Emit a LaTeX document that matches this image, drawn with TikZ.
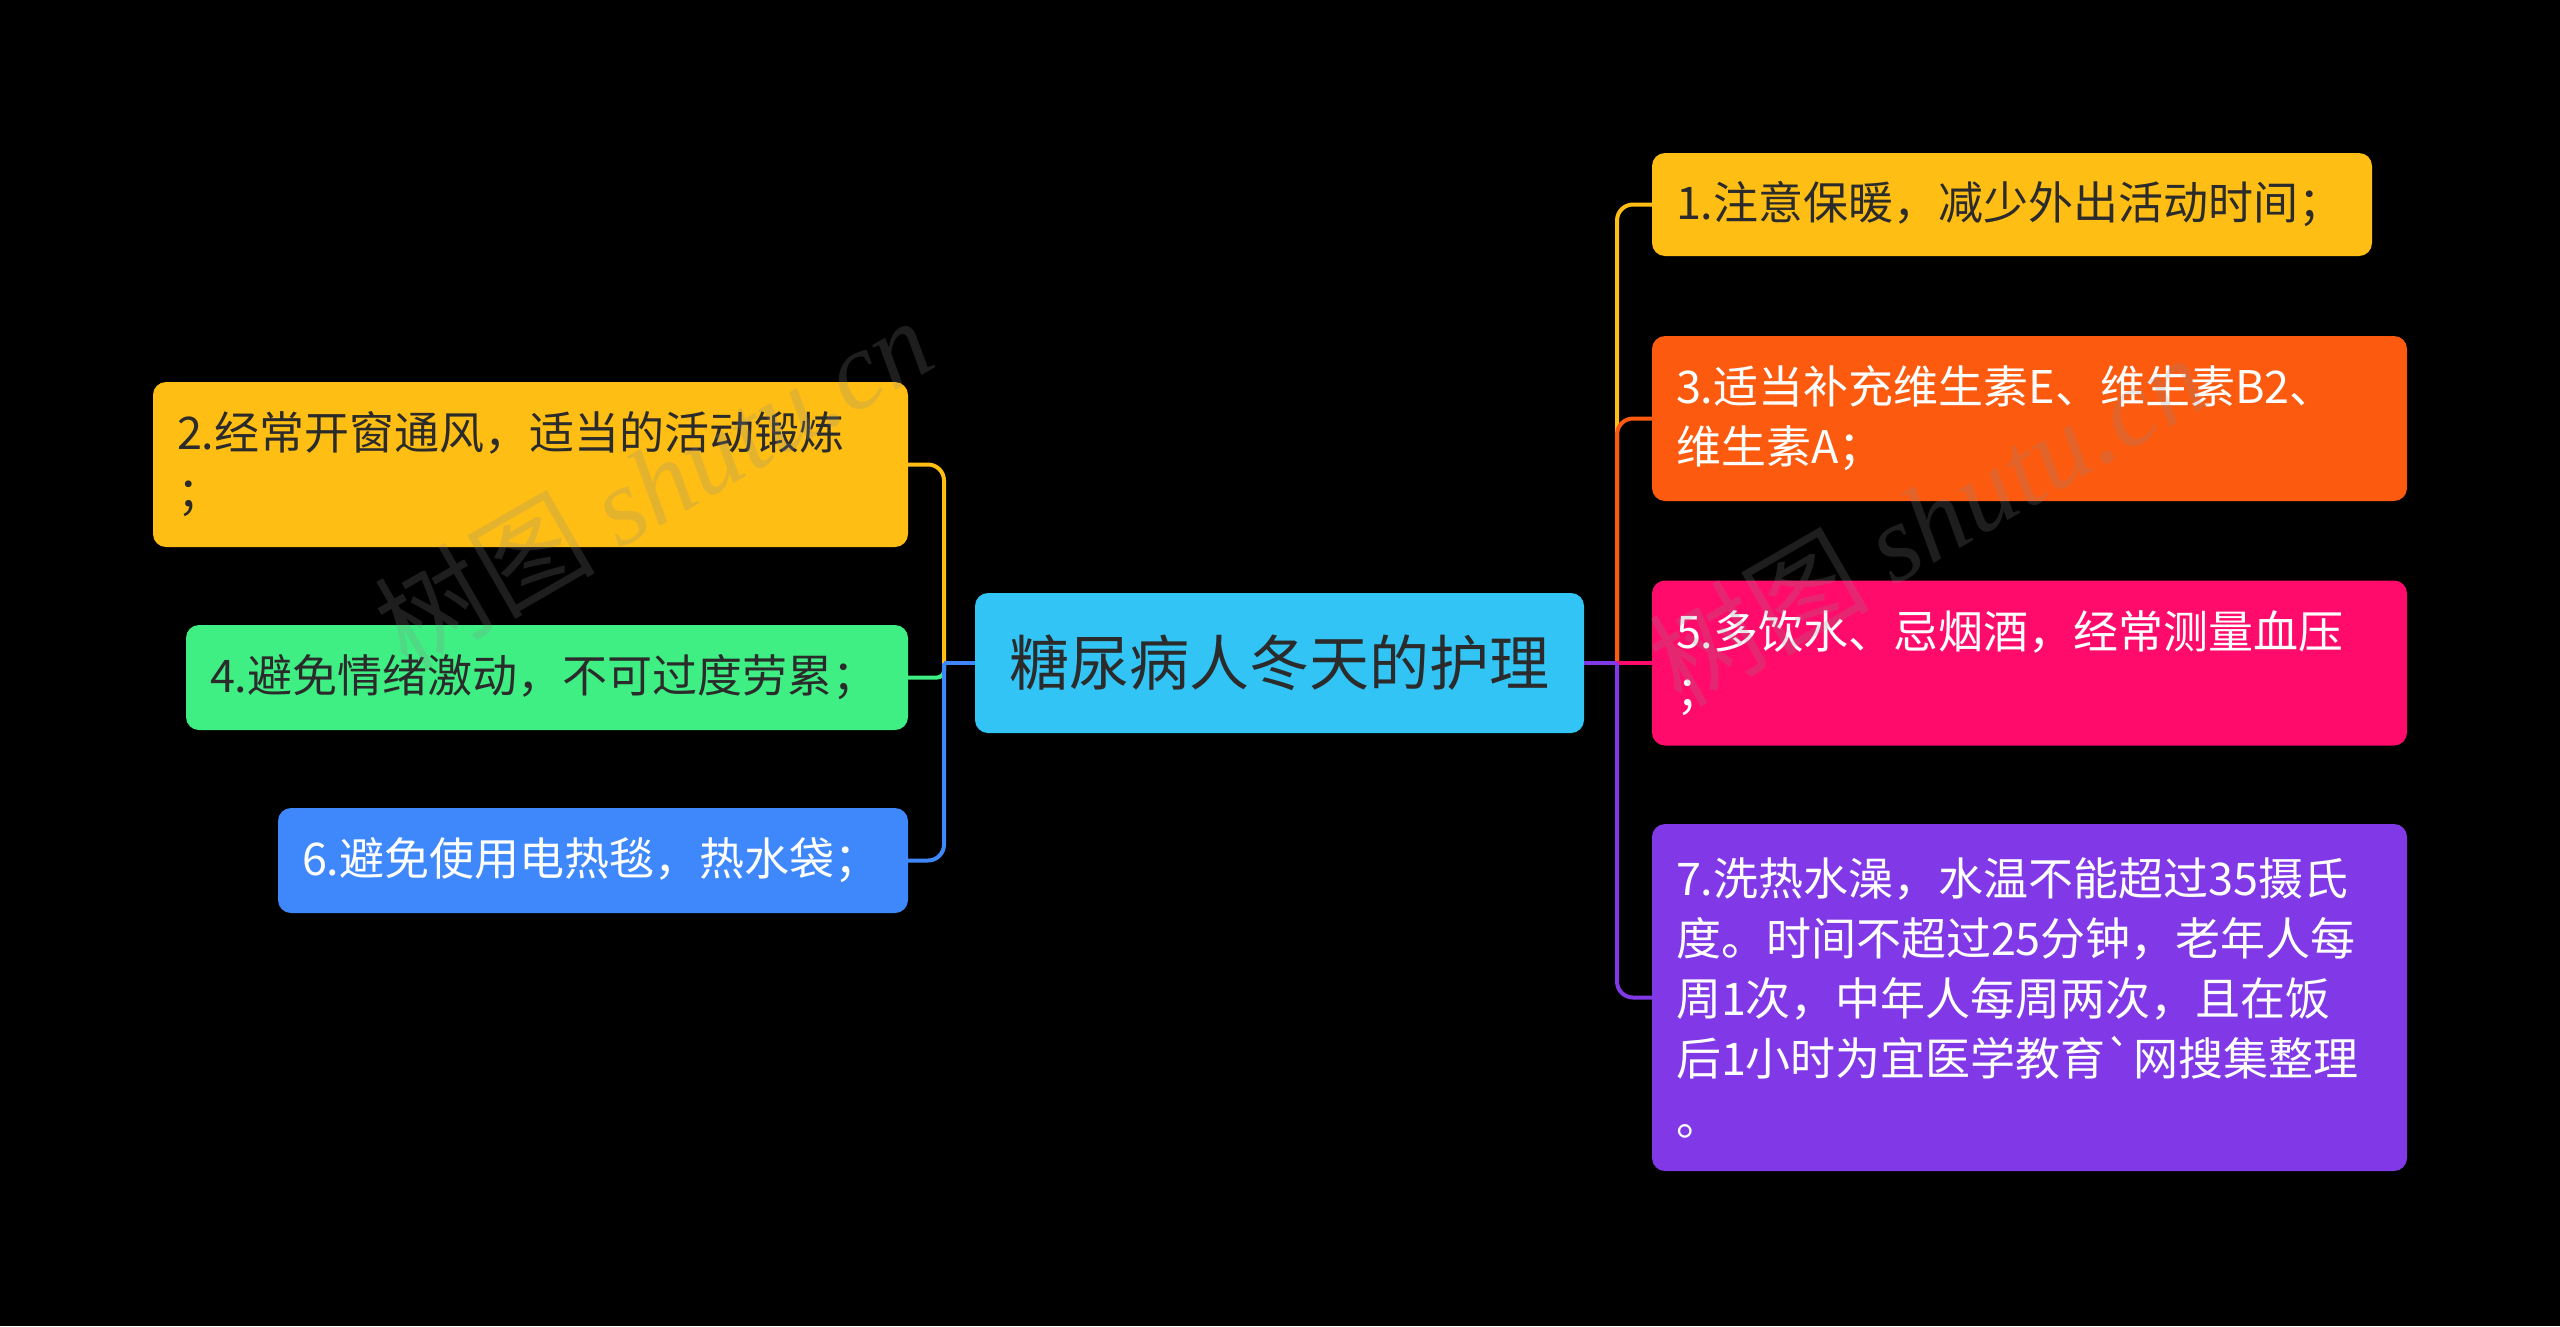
\documentclass[tikz,border=0pt]{standalone}
\usepackage{fontspec}
\newfontfamily\cjk{Noto Sans CJK SC}
\newfontfamily\wmlatin{Liberation Serif}
\definecolor{cYel}{HTML}{FEBE14}
\definecolor{cOra}{HTML}{FC5A0F}
\definecolor{cPnk}{HTML}{FF0B6B}
\definecolor{cPur}{HTML}{8139E8}
\definecolor{cGrn}{HTML}{3FEF84}
\definecolor{cBlu}{HTML}{3F88FB}
\definecolor{cCya}{HTML}{31C4F5}
\definecolor{cDark}{HTML}{2B2B2B}
\begin{document}
\begin{tikzpicture}[x=1pt,y=-1pt,
  box/.style={rounded corners=13pt, inner xsep=24pt, inner ysep=0pt, align=left,
    font=\cjk\fontsize{45}{60}\selectfont, anchor=center},
  rootbox/.style={rounded corners=13pt, inner sep=0pt, align=center,
    font=\cjk\fontsize{60}{72}\selectfont, anchor=center, fill=cCya, text=cDark,
    minimum width=609pt, minimum height=140pt},
  conn/.style={line width=4pt},
  wm/.style={font=\cjk\fontsize{110}{120}\selectfont, text=white!55!black, text opacity=0.22}
]
\useasboundingbox (0,0) rectangle (2560,1326);
\fill[black] (0,0) rectangle (2560,1326);

% nodes
\node[rootbox] (c) at (1279.5,663) {糖尿病人冬天的护理};

\node[box, fill=cYel, text=cDark, minimum width=720pt, minimum height=103pt, text width=672pt] (n1) at (2012,204.5) {1.注意保暖，减少外出活动时间；};
\node[box, fill=cOra, text=white, minimum width=755pt, minimum height=165pt, text width=707pt] (n3) at (2029.5,418.5) {3.适当补充维生素E、维生素B2、\\维生素A；};
\node[box, fill=cPnk, text=white, minimum width=755pt, minimum height=165pt, text width=707pt] (n5) at (2029.5,663) {5.多饮水、忌烟酒，经常测量血压\\；};
\node[box, fill=cPur, text=white, minimum width=755pt, minimum height=347pt, text width=707pt] (n7) at (2029.5,997.5) {7.洗热水澡，水温不能超过35摄氏\\度。时间不超过25分钟，老年人每\\周1次，中年人每周两次，且在饭\\后1小时为宜医学教育`网搜集整理\\。};

\node[box, fill=cYel, text=cDark, minimum width=755pt, minimum height=165pt, text width=707pt] (n2) at (530.5,464.5) {2.经常开窗通风，适当的活动锻炼\\；};
\node[box, fill=cGrn, text=cDark, minimum width=722pt, minimum height=105pt, text width=674pt] (n4) at (547,677.5) {4.避免情绪激动，不可过度劳累；};
\node[box, fill=cBlu, text=white, minimum width=630pt, minimum height=105pt, text width=582pt] (n6) at (593,860.5) {6.避免使用电热毯，热水袋；};

% connectors
\coordinate (lt) at (944,663);
\coordinate (rt) at (1617,663);

\begin{scope}[on background layer/.style={}]
\end{scope}

\draw[conn, draw=cYel] (c.east) -- (rt);
\draw[conn, draw=cYel, rounded corners=16pt] (rt) |- (n1.west);
\draw[conn, draw=cOra] (c.east) -- (rt);
\draw[conn, draw=cOra, rounded corners=16pt] (rt) |- (n3.west);
\draw[conn, draw=cPnk] (c.east) -- (rt) -- (n5.west);
\draw[conn, draw=cPur] (c.east) -- (rt);
\draw[conn, draw=cPur, rounded corners=16pt] (rt) |- (n7.west);

\draw[conn, draw=cYel] (c.west) -- (lt);
\draw[conn, draw=cYel, rounded corners=16pt] (lt) |- (n2.east);
\draw[conn, draw=cGrn] (c.west) -- (lt);
\draw[conn, draw=cGrn, rounded corners=7pt] (lt) |- (n4.east);
\draw[conn, draw=cBlu] (c.west) -- (lt);
\draw[conn, draw=cBlu, rounded corners=16pt] (lt) |- (n6.east);

% watermarks
\node[wm, rotate=30] (wm1) at (653,482) {树图 {\wmlatin\itshape shutu.cn}};
\node[wm, rotate=30] (wm2) at (1927,519) {树图 {\wmlatin\itshape shutu.cn}};
\end{tikzpicture}
\end{document}
